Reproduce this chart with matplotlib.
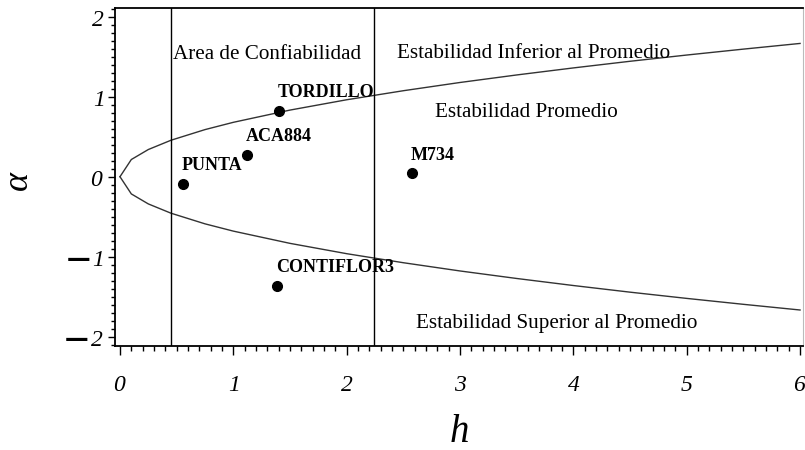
import numpy as np
import matplotlib
matplotlib.use("Agg")
import matplotlib.pyplot as plt
from matplotlib.ticker import MultipleLocator, FixedLocator

plt.rcParams['mathtext.fontset'] = 'custom'
plt.rcParams['mathtext.rm'] = 'Liberation Serif:italic'
plt.rcParams['mathtext.it'] = 'Liberation Serif:italic'
plt.rcParams['mathtext.bf'] = 'DejaVu Sans:bold'

# boundary of the average-stability region (upper branch, lower is mirrored)
curve_h = [0, 0.1, 0.25, 0.45, 0.75, 1.0, 1.5, 2.0, 2.5, 3.0, 3.5, 4.0, 4.5, 5.0, 5.5, 6.0]
curve_a = [0, 0.215, 0.34, 0.456, 0.589, 0.68, 0.833, 0.962, 1.075, 1.178,
           1.272, 1.36, 1.443, 1.521, 1.595, 1.666]

# vertical limits of the confidence area
h_limits = [0.45, 2.243]

# cultivars
names = ['TORDILLO', 'ACA884', 'PUNTA', 'M734', 'CONTIFLOR3']
h_vals = [1.405, 1.123, 0.553, 2.578, 1.387]
a_vals = [0.825, 0.271, -0.091, 0.042, -1.366]

regions = ['Area de Confiabilidad', 'Estabilidad Inferior al Promedio',
           'Estabilidad Promedio', 'Estabilidad Superior al Promedio']
region_xy = [(0.465, 1.4675), (2.44, 1.49), (2.778, 0.7425), (2.61, -1.89)]

x_ticks = [0, 1, 2, 3, 4, 5, 6]
y_ticks = [-2, -1, 0, 1, 2]

fig = plt.figure(figsize=(8.05, 4.5), dpi=100)
ax = fig.add_axes([115/805, 1-346/450, 688/805, 338/450])

ax.plot(curve_h, curve_a, color='#333333', lw=1.0)
ax.plot(curve_h, -np.array(curve_a), color='#333333', lw=1.0)
for hl in h_limits:
    ax.axvline(hl, color='black', lw=1.0)

ax.plot(h_vals, a_vals, 'o', color='black', ms=7)
for n, x, y in zip(names, h_vals, a_vals):
    ax.annotate(n, (x, y), xytext=(-1, 7), textcoords='offset points',
                ha='left', va='bottom', fontsize=13, fontweight='bold',
                family='Liberation Serif')

for t, (x, y) in zip(regions, region_xy):
    ax.text(x, y, t, ha='left', va='baseline', fontsize=15.2,
            family='Liberation Serif')

ax.set_xlim(-0.044, 6.026)
ax.set_ylim(-2.116, 2.109)

ax.xaxis.set_major_locator(FixedLocator(x_ticks))
ax.xaxis.set_minor_locator(MultipleLocator(0.1))
ax.yaxis.set_major_locator(FixedLocator(y_ticks))
ax.yaxis.set_minor_locator(MultipleLocator(0.1))

DASH = '\u2014'


def tick_text(v):
    if v < 0:
        return r'$\mathbf{' + DASH + r'}\,\mathrm{%d}$' % abs(v)
    return r'$\mathrm{%d}$' % v


ax.set_xticklabels([tick_text(v) for v in x_ticks], fontsize=17)
ax.set_yticklabels([tick_text(v) for v in y_ticks], fontsize=17)

ax.tick_params(axis='x', which='major', direction='out', length=6.5, width=1, pad=12)
ax.tick_params(axis='x', which='minor', direction='out', length=3.5, width=1)
ax.tick_params(axis='y', which='major', direction='out', length=5, width=1, pad=3)
ax.tick_params(axis='y', which='minor', direction='out', length=3, width=1)

for s in ['left', 'bottom', 'top']:
    ax.spines[s].set_linewidth(1.3)
ax.spines['right'].set_color('#bbbbbb')
ax.spines['right'].set_linewidth(0.8)

fig.text(459/805, 1-433/450, 'h', ha='center', va='center', fontsize=28,
         style='italic', family='Liberation Serif')
fig.text(18/805, 1-180/450, '\u03b1', ha='center', va='center', fontsize=26,
         style='italic', family='Liberation Serif', rotation=90)

fig.savefig('out.png', dpi=100)
